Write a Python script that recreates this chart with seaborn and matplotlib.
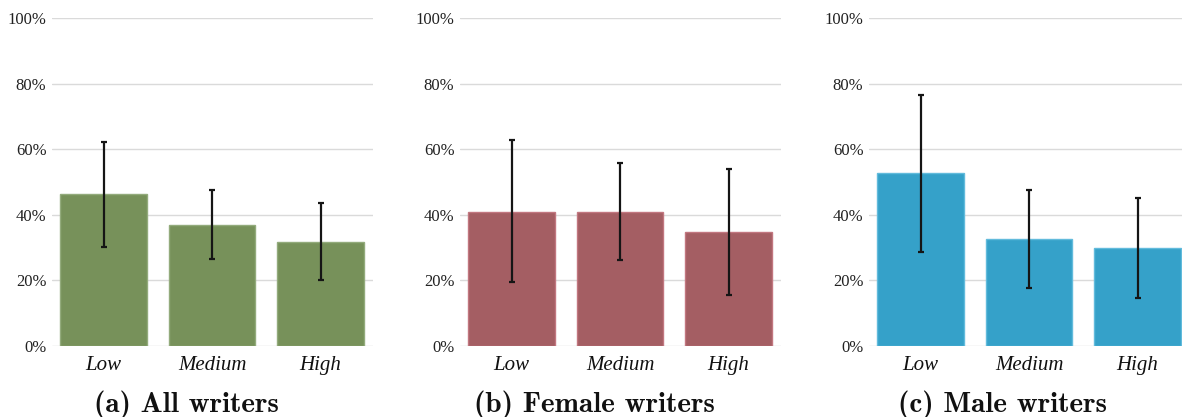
import numpy as np
import pandas as pd
import matplotlib
matplotlib.use("Agg")
import matplotlib.pyplot as plt
from matplotlib.ticker import PercentFormatter
import seaborn as sns

# --- data (percent) ---
levels = ["Low", "Medium", "High"]
captions = ["(a) All writers", "(b) Female writers", "(c) Male writers"]
colors = ["#77915a", "#a45e63", "#35a1c9"]
edge_colors = ["#93ab7c", "#c27780", "#62bbdc"]

all_mean = [46.3, 36.9, 31.8]
all_low = [30.2, 26.6, 20.1]
all_high = [62.2, 47.6, 43.6]

female_mean = [40.9, 40.9, 34.7]
female_low = [19.4, 26.1, 15.5]
female_high = [62.8, 55.8, 54.0]

male_mean = [52.6, 32.6, 29.8]
male_low = [28.8, 17.8, 14.7]
male_high = [76.5, 47.6, 45.0]

panels = [
    (all_mean, all_low, all_high),
    (female_mean, female_low, female_high),
    (male_mean, male_low, male_high),
]

sns.set_theme(style="white")
plt.rcParams["font.family"] = ["Liberation Serif", "DejaVu Serif"]

fig = plt.figure(figsize=(11.82, 4.17), dpi=100)
W, H = 1182, 417
lefts = [52, 460, 869]
ax_w = 321

for i, (mean, lo, hi) in enumerate(panels):
    ax = fig.add_axes([lefts[i] / W, 1 - 346 / H, ax_w / W, (346 - 18) / H])
    df = pd.DataFrame({"level": levels, "value": mean})
    sns.barplot(data=df, x="level", y="value", order=levels, color=colors[i],
                saturation=1, width=0.8, edgecolor=edge_colors[i], linewidth=1,
                errorbar=None, ax=ax, zorder=2)
    x = np.arange(len(levels))
    m = np.array(mean)
    yerr = np.vstack([m - np.array(lo), np.array(hi) - m])
    ax.errorbar(x, m, yerr=yerr, fmt="none", ecolor="#151515", elinewidth=1.6,
                capsize=2.5, capthick=1.6, zorder=3)
    ax.set_ylim(0, 100)
    ax.set_xlim(-0.475, 2.483)
    ax.set_yticks([0, 20, 40, 60, 80, 100])
    ax.yaxis.set_major_formatter(PercentFormatter(100, decimals=0))
    ax.grid(axis="y", color="#dadada", lw=1.0, zorder=0)
    ax.set_axisbelow(True)
    for s in ax.spines.values():
        s.set_visible(False)
    ax.tick_params(axis="y", length=0, pad=4, labelsize=12, labelcolor="#222222")
    ax.tick_params(axis="x", length=0, pad=7, labelsize=15, labelcolor="#111111")
    for t in ax.get_xticklabels():
        t.set_fontstyle("italic")
    ax.set_xlabel("")
    ax.set_ylabel("")
    fig.text((lefts[i] + 134) / W, 1 - 405 / H, captions[i], ha="center", va="center",
             fontsize=21, family=["cmb10", "DejaVu Serif"], color="#111111")

fig.savefig("out.png", dpi=100)
